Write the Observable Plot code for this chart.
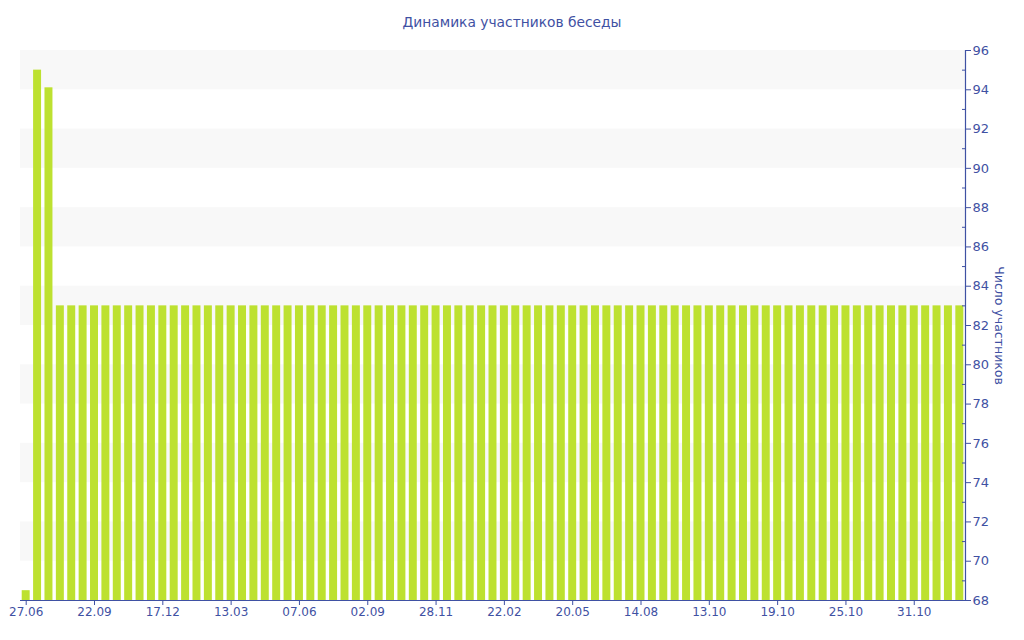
<!DOCTYPE html>
<html>
<head>
<meta charset="utf-8">
<script src="https://cdn.jsdelivr.net/npm/d3@7"></script>
<script src="https://cdn.jsdelivr.net/npm/@observablehq/plot@0.6"></script>
<style>
  body { margin: 0; background: #fff; }
  #title { height: 40px; box-sizing: border-box; padding-top: 13px; text-align: center;
           font-family: "DejaVu Sans", sans-serif; font-size: 13.8px; line-height: 18px; color: #3f51a3; }
</style>
</head>
<body>
<div id="title">Динамика участников беседы</div>
<div id="chart"></div>
<script>
const title = "Динамика участников беседы";
const yLabel = "Число участников";
const tickLabels = ["27.06","22.09","17.12","13.03","07.06","02.09","28.11","22.02","20.05","14.08","13.10","19.10","25.10","31.10"];
const values = [
  68.5, 95, 94.1,
  83, 83, 83, 83, 83, 83, 83, 83, 83, 83,
  83, 83, 83, 83, 83, 83, 83, 83, 83, 83,
  83, 83, 83, 83, 83, 83, 83, 83, 83, 83,
  83, 83, 83, 83, 83, 83, 83, 83, 83, 83,
  83, 83, 83, 83, 83, 83, 83, 83, 83, 83,
  83, 83, 83, 83, 83, 83, 83, 83, 83, 83,
  83, 83, 83, 83, 83, 83, 83, 83, 83, 83,
  83, 83, 83, 83, 83, 83, 83, 83, 83, 83
];
const majorTicks = [68,70,72,74,76,78,80,82,84,86,88,90,92,94,96];
const minorTicks = [69,71,73,75,77,79,81,83,85,87,89,91,93,95];
const stripeLo = [70,74,78,82,86,90,94];
const stripeHi = [72,76,80,84,88,92,96];

const blue = "#3f51a3";
const data = values.map((v, i) => ({i, v}));
const stripes = stripeLo.map((lo, k) => ({lo, hi: stripeHi[k]}));
const tickIdx = tickLabels.map((_, k) => k * 6);

const chart = Plot.plot({
  width: 1024, height: 600,
  marginTop: 10, marginBottom: 40, marginLeft: 20, marginRight: 59,
  style: {fontFamily: "DejaVu Sans, sans-serif", fontSize: "12px", color: blue, background: "white", overflow: "visible"},
  x: {type: "band", domain: data.map(d => d.i), paddingInner: 0.3, paddingOuter: 0.15, axis: null},
  y: {domain: [68, 96], axis: null},
  marks: [
    Plot.rectY(stripes, {y1: "lo", y2: "hi", fill: "#f8f8f8"}),
    Plot.barY(data, {x: "i", y1: () => 68, y2: "v", fill: "#bde130"}),
    Plot.ruleY([68], {stroke: blue, strokeWidth: 1.2}),
    Plot.frame({anchor: "right", stroke: blue, strokeWidth: 1.2}),
    Plot.axisX({ticks: tickIdx, tickFormat: i => tickLabels[i / 6], tickSize: 5, tickPadding: 2, stroke: blue, fill: blue, label: null, fontSize: 12}),
    Plot.axisY({anchor: "right", ticks: majorTicks, tickSize: 5, tickPadding: 2, stroke: blue, fill: blue, label: null, fontSize: 13}),
    Plot.axisY({anchor: "right", ticks: minorTicks, tickSize: 4, dx: -4, tickFormat: () => "", stroke: blue, label: null}),
    Plot.text([yLabel], {frameAnchor: "right", textAnchor: "middle", rotate: 90, dx: 33, fill: blue, fontSize: 12.5})
  ]
});
document.getElementById("chart").appendChild(chart);
</script>
</body>
</html>
